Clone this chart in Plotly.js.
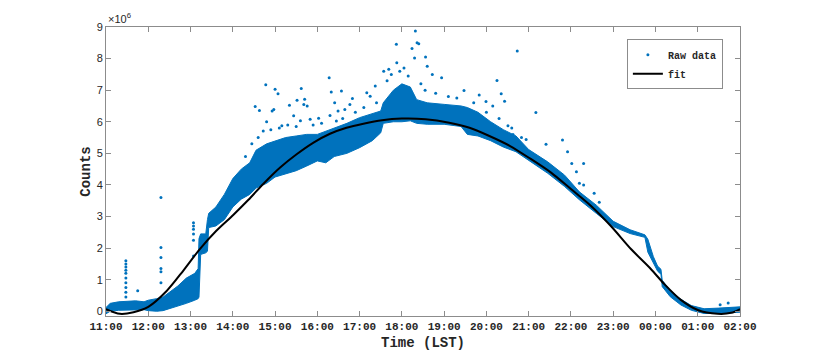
<!DOCTYPE html>
<html>
<head>
<meta charset="utf-8">
<script src="https://cdn.plot.ly/plotly-3.0.1.min.js"></script>
<style>
  body { margin: 0; background: #fff; }
  #plot { width: 817px; height: 356px; }
</style>
</head>
<body>
<div id="plot"></div>
<script>
// hours after midnight of the first day (26 = 02:00 next day), counts in units of 1e6

// dense part of the raw data, read as lower / upper edge of the cloud
let bandHours = [11.00, 11.10, 11.30, 11.50, 11.70, 11.90, 12.00, 12.20, 12.35, 12.50, 12.70, 12.90, 13.10, 13.18, 13.20, 13.24, 13.36, 13.40, 13.43, 13.60, 13.80, 14.00, 14.20, 14.40, 14.55, 14.80, 15.00, 15.25, 15.50, 15.75, 16.00, 16.20, 16.40, 16.70, 17.00, 17.30, 17.50, 17.56, 17.80, 18.00, 18.20, 18.35, 18.60, 19.00, 19.40, 19.55, 19.80, 20.10, 20.40, 20.70, 21.00, 21.45, 21.85, 22.20, 22.60, 23.00, 23.40, 23.75, 23.82, 23.95, 24.05, 24.13, 24.16, 24.35, 24.60, 24.85, 25.15, 25.50, 25.80, 26.00];
let bandLow = [-0.08, 0.00, 0.03, 0.03, 0.05, 0.05, 0.02, 0.00, 0.02, 0.08, 0.15, 0.25, 0.35, 0.40, 0.45, 1.80, 1.85, 1.90, 2.65, 2.70, 2.90, 3.30, 3.55, 3.70, 3.90, 4.05, 4.25, 4.35, 4.45, 4.60, 4.76, 4.70, 4.90, 5.00, 5.18, 5.40, 5.65, 5.95, 6.00, 6.00, 6.03, 5.95, 5.92, 5.92, 5.85, 5.60, 5.55, 5.40, 5.20, 5.05, 4.78, 4.37, 3.95, 3.53, 3.10, 2.68, 2.46, 2.34, 1.87, 1.52, 1.27, 1.17, 0.78, 0.46, 0.20, 0.03, -0.07, -0.07, -0.05, -0.03];
let bandHigh = [0.12, 0.25, 0.30, 0.32, 0.33, 0.30, 0.35, 0.40, 0.45, 0.60, 0.80, 1.05, 1.20, 1.35, 2.30, 2.45, 2.45, 2.90, 3.10, 3.30, 3.70, 4.20, 4.50, 4.70, 5.10, 5.30, 5.40, 5.50, 5.55, 5.60, 5.60, 5.70, 5.80, 5.95, 6.13, 6.25, 6.34, 6.60, 7.00, 7.20, 7.10, 6.70, 6.60, 6.55, 6.50, 6.45, 6.30, 6.00, 5.75, 5.55, 5.12, 4.73, 4.31, 3.78, 3.36, 2.85, 2.58, 2.42, 2.28, 1.73, 1.43, 1.33, 0.98, 0.66, 0.38, 0.18, 0.08, 0.10, 0.12, 0.14];

// scattered raw points outside the dense cloud
let rawHours = [11.47, 11.47, 11.47, 11.47, 11.47, 11.47, 11.47, 11.47, 11.47, 11.47, 11.75,
  12.30, 12.30, 12.30, 12.30, 12.30, 12.30,
  13.07, 13.07, 13.07, 13.07, 13.07, 13.07,
  14.53, 14.63, 14.78, 14.80, 14.72, 14.93, 14.97, 15.00, 15.07, 15.16, 15.34, 15.44, 15.52, 15.60, 15.62, 15.68, 15.70, 15.76, 15.83, 16.03,
  16.28, 16.33, 16.41, 16.45, 16.49, 16.57, 16.65, 16.77, 16.83, 17.17, 17.25, 17.37, 17.57, 17.69, 17.87, 17.88, 18.24, 18.30, 18.32, 18.36, 18.40, 18.56, 18.60, 18.72, 18.94,
  19.47, 19.83, 19.99, 20.15, 20.25, 20.35, 20.43, 20.51, 20.63, 20.73, 20.83, 20.94,
  21.17, 21.41, 21.80, 21.92, 22.02, 22.13, 22.30, 22.20, 22.30, 22.55, 22.67, 25.53, 25.72,
  14.30, 14.45, 14.60, 14.90, 15.10, 15.30, 15.50, 15.90, 16.10, 16.30, 16.60, 16.90, 17.10, 17.40, 17.65, 17.75, 17.95, 18.05, 18.15, 18.45, 18.55, 18.80, 19.10, 19.30, 19.70, 20.00, 20.30, 20.60];
let rawCounts = [0.45, 0.60, 0.75, 0.90, 1.05, 1.20, 1.30, 1.40, 1.50, 1.60, 0.65,
  3.60, 2.02, 1.70, 1.35, 1.25, 0.90,
  2.80, 2.70, 2.60, 2.45, 2.25, 1.75,
  6.48, 6.36, 7.17, 6.00, 5.71, 6.34, 6.39, 7.03, 6.89, 5.87, 6.52, 6.19, 6.68, 6.03, 7.05, 6.55, 6.71, 6.50, 6.08, 6.11,
  7.39, 6.94, 6.60, 6.02, 6.34, 6.97, 6.39, 6.55, 6.74, 6.92, 6.81, 7.13, 7.60, 7.66, 8.45, 7.87, 8.32, 8.02, 8.87, 8.50, 8.47, 8.05, 7.76, 7.50, 7.39,
  6.99, 6.85, 6.64, 6.50, 7.31, 6.89, 6.65, 5.87, 5.60, 8.24, 5.50, 5.44,
  6.29, 5.29, 5.42, 5.05, 4.68, 4.42, 4.68, 4.05, 4.00, 3.74, 3.45, 0.21, 0.26,
  4.90, 5.30, 5.50, 5.75, 5.80, 5.90, 5.85, 5.90, 5.95, 6.20, 6.10, 6.30, 6.45, 6.60, 7.30, 7.50, 7.60, 7.70, 7.45, 7.20, 7.00, 6.90, 6.80, 6.75, 6.60, 6.30, 6.10, 5.80];

// fitted curve
let fitHours = [11.00, 11.33, 11.65, 12.00, 12.44, 12.83, 13.22, 13.61, 14.01, 14.37, 14.72, 15.12, 15.51, 15.91, 16.30, 16.69, 17.09, 17.53, 18.00, 18.56, 19.12, 19.60, 20.07, 20.55, 21.03, 21.53, 22.00, 22.47, 22.95, 23.42, 23.89, 24.21, 24.60, 25.00, 25.47, 25.79, 26.00];
let fitCounts = [0.07, -0.08, -0.03, 0.14, 0.65, 1.29, 1.97, 2.55, 3.05, 3.53, 4.03, 4.55, 4.97, 5.34, 5.62, 5.81, 5.94, 6.05, 6.10, 6.08, 5.97, 5.81, 5.55, 5.24, 4.84, 4.39, 3.87, 3.34, 2.69, 1.97, 1.34, 0.86, 0.36, 0.04, -0.08, -0.05, 0.07];

let tickHours = [11, 12, 13, 14, 15, 16, 17, 18, 19, 20, 21, 22, 23, 24, 25, 26];
let tickLabels = ['11:00', '12:00', '13:00', '14:00', '15:00', '16:00', '17:00', '18:00', '19:00', '20:00', '21:00', '22:00', '23:00', '00:00', '01:00', '02:00'];

let blue = '#0072BD';
let mono = 'Liberation Mono, Courier New, monospace';

let lowTrace = {
  x: bandHours, y: bandLow, mode: 'lines',
  line: {color: blue, width: 1},
  showlegend: false, hoverinfo: 'skip'
};
let highTrace = {
  x: bandHours, y: bandHigh, mode: 'lines',
  line: {color: blue, width: 1},
  fill: 'tonexty', fillcolor: blue,
  showlegend: false, hoverinfo: 'skip'
};
let rawTrace = {
  x: rawHours, y: rawCounts, mode: 'markers', name: 'Raw data',
  marker: {color: blue, size: 3}
};
let fitTrace = {
  x: fitHours, y: fitCounts, mode: 'lines', name: 'fit',
  line: {color: 'black', width: 2, shape: 'spline', smoothing: 0.8}
};

let axisCommon = {
  showline: true, linecolor: '#8c8c8c', linewidth: 1, mirror: 'ticks',
  ticks: 'inside', ticklen: 5, tickcolor: '#8c8c8c',
  showgrid: false, zeroline: false
};

let layout = {
  width: 817, height: 356,
  margin: {l: 106, r: 77, t: 27, b: 40},
  paper_bgcolor: 'white', plot_bgcolor: 'white',
  showlegend: true,
  legend: {
    x: 0.973, y: 0.958, xanchor: 'right', yanchor: 'top',
    traceorder: 'normal',
    bgcolor: 'white', bordercolor: '#8c8c8c', borderwidth: 1,
    font: {family: mono, size: 10, color: '#262626', weight: 'bold'},
    tracegroupgap: 0, itemwidth: 30
  },
  xaxis: Object.assign({}, axisCommon, {
    range: [11, 26],
    tickvals: tickHours, ticktext: tickLabels,
    tickfont: {family: mono, size: 11, color: '#262626', weight: 'bold'},
    title: {text: 'Time (LST)', font: {family: mono, size: 14, color: '#262626', weight: 'bold'}, standoff: 4}
  }),
  yaxis: Object.assign({}, axisCommon, {
    range: [-0.15, 9],
    tickvals: [0, 1, 2, 3, 4, 5, 6, 7, 8, 9],
    tickfont: {family: 'Liberation Sans, Arial, sans-serif', size: 11, color: '#262626'},
    title: {text: 'Counts', font: {family: mono, size: 14, color: '#262626', weight: 'bold'}, standoff: 2}
  }),
  annotations: [{
    xref: 'paper', yref: 'paper', x: 0, y: 1, xanchor: 'left', yanchor: 'bottom',
    text: '×10<sup>6</sup>', showarrow: false,
    font: {family: 'Liberation Sans, Arial, sans-serif', size: 11, color: '#262626'}
  }]
};

Plotly.newPlot('plot', [lowTrace, highTrace, rawTrace, fitTrace], layout, {displayModeBar: false});
</script>
</body>
</html>
